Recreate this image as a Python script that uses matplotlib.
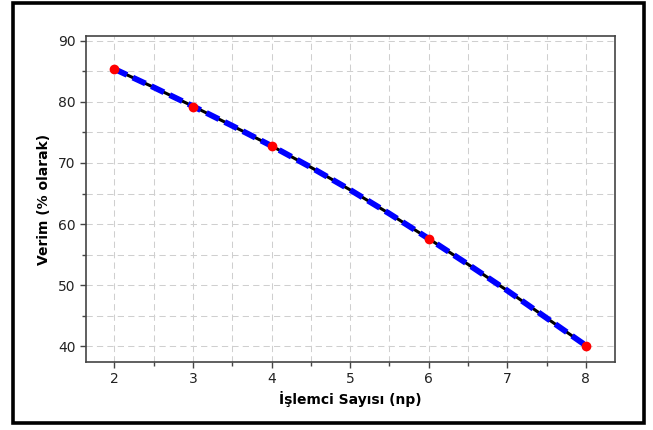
import matplotlib
matplotlib.use("Agg")
import matplotlib.pyplot as plt
from matplotlib.patches import Rectangle
from matplotlib.ticker import MultipleLocator

# measured points
np_vals = [2, 3, 4, 6, 8]
verim = [85.4, 79.2, 72.8, 57.6, 40.1]

# fitted curve
curve_x = [2, 2.5, 3, 3.5, 4, 4.5, 5, 5.5, 6, 6.5, 7, 7.5, 8]
curve_y = [85.4, 82.4, 79.3, 76.1, 72.8, 69.3, 65.6, 61.7, 57.6, 53.4, 49.1, 44.6, 40.1]

plt.rcParams['font.family'] = ['DejaVu Sans']

fig = plt.figure(figsize=(6.53, 4.30), dpi=100)
ax = fig.add_axes([0.1317, 0.1581, 0.8101, 0.7582])

# outer frame
fig.patches.append(Rectangle((0.02, 0.0163), 0.966, 0.977, transform=fig.transFigure,
                             fill=False, edgecolor='black', linewidth=2.6))

ax.plot(curve_x, curve_y, color='black', linewidth=2.2, zorder=3)
ax.plot(curve_x, curve_y, color='#0000ff', linewidth=4.2, dashes=(2.4, 1.1), zorder=4)
ax.plot(np_vals, verim, 'o', color='red', markersize=6, zorder=5)

ax.set_xlim(1.64, 8.37)
ax.set_ylim(37.4, 90.8)
ax.xaxis.set_major_locator(MultipleLocator(1))
ax.xaxis.set_minor_locator(MultipleLocator(0.5))
ax.yaxis.set_major_locator(MultipleLocator(10))
ax.yaxis.set_minor_locator(MultipleLocator(5))

ax.grid(True, which='both', color='#cfcfcf', linestyle='--', linewidth=0.75, dashes=(6, 4))
ax.set_axisbelow(True)

for s in ax.spines.values():
    s.set_color('#444444')
    s.set_linewidth(1.2)
ax.tick_params(which='major', direction='out', length=4, width=1, colors='#444444',
               labelcolor='#222222', labelsize=10)
ax.tick_params(which='minor', direction='out', length=3, width=1, colors='#444444')

ax.set_xlabel('İşlemci Sayısı (np)', fontsize=10, fontweight='bold', labelpad=3)
ax.set_ylabel('Verim (% olarak)', fontsize=10, fontweight='bold', labelpad=5)

fig.savefig('out.png', dpi=100)
